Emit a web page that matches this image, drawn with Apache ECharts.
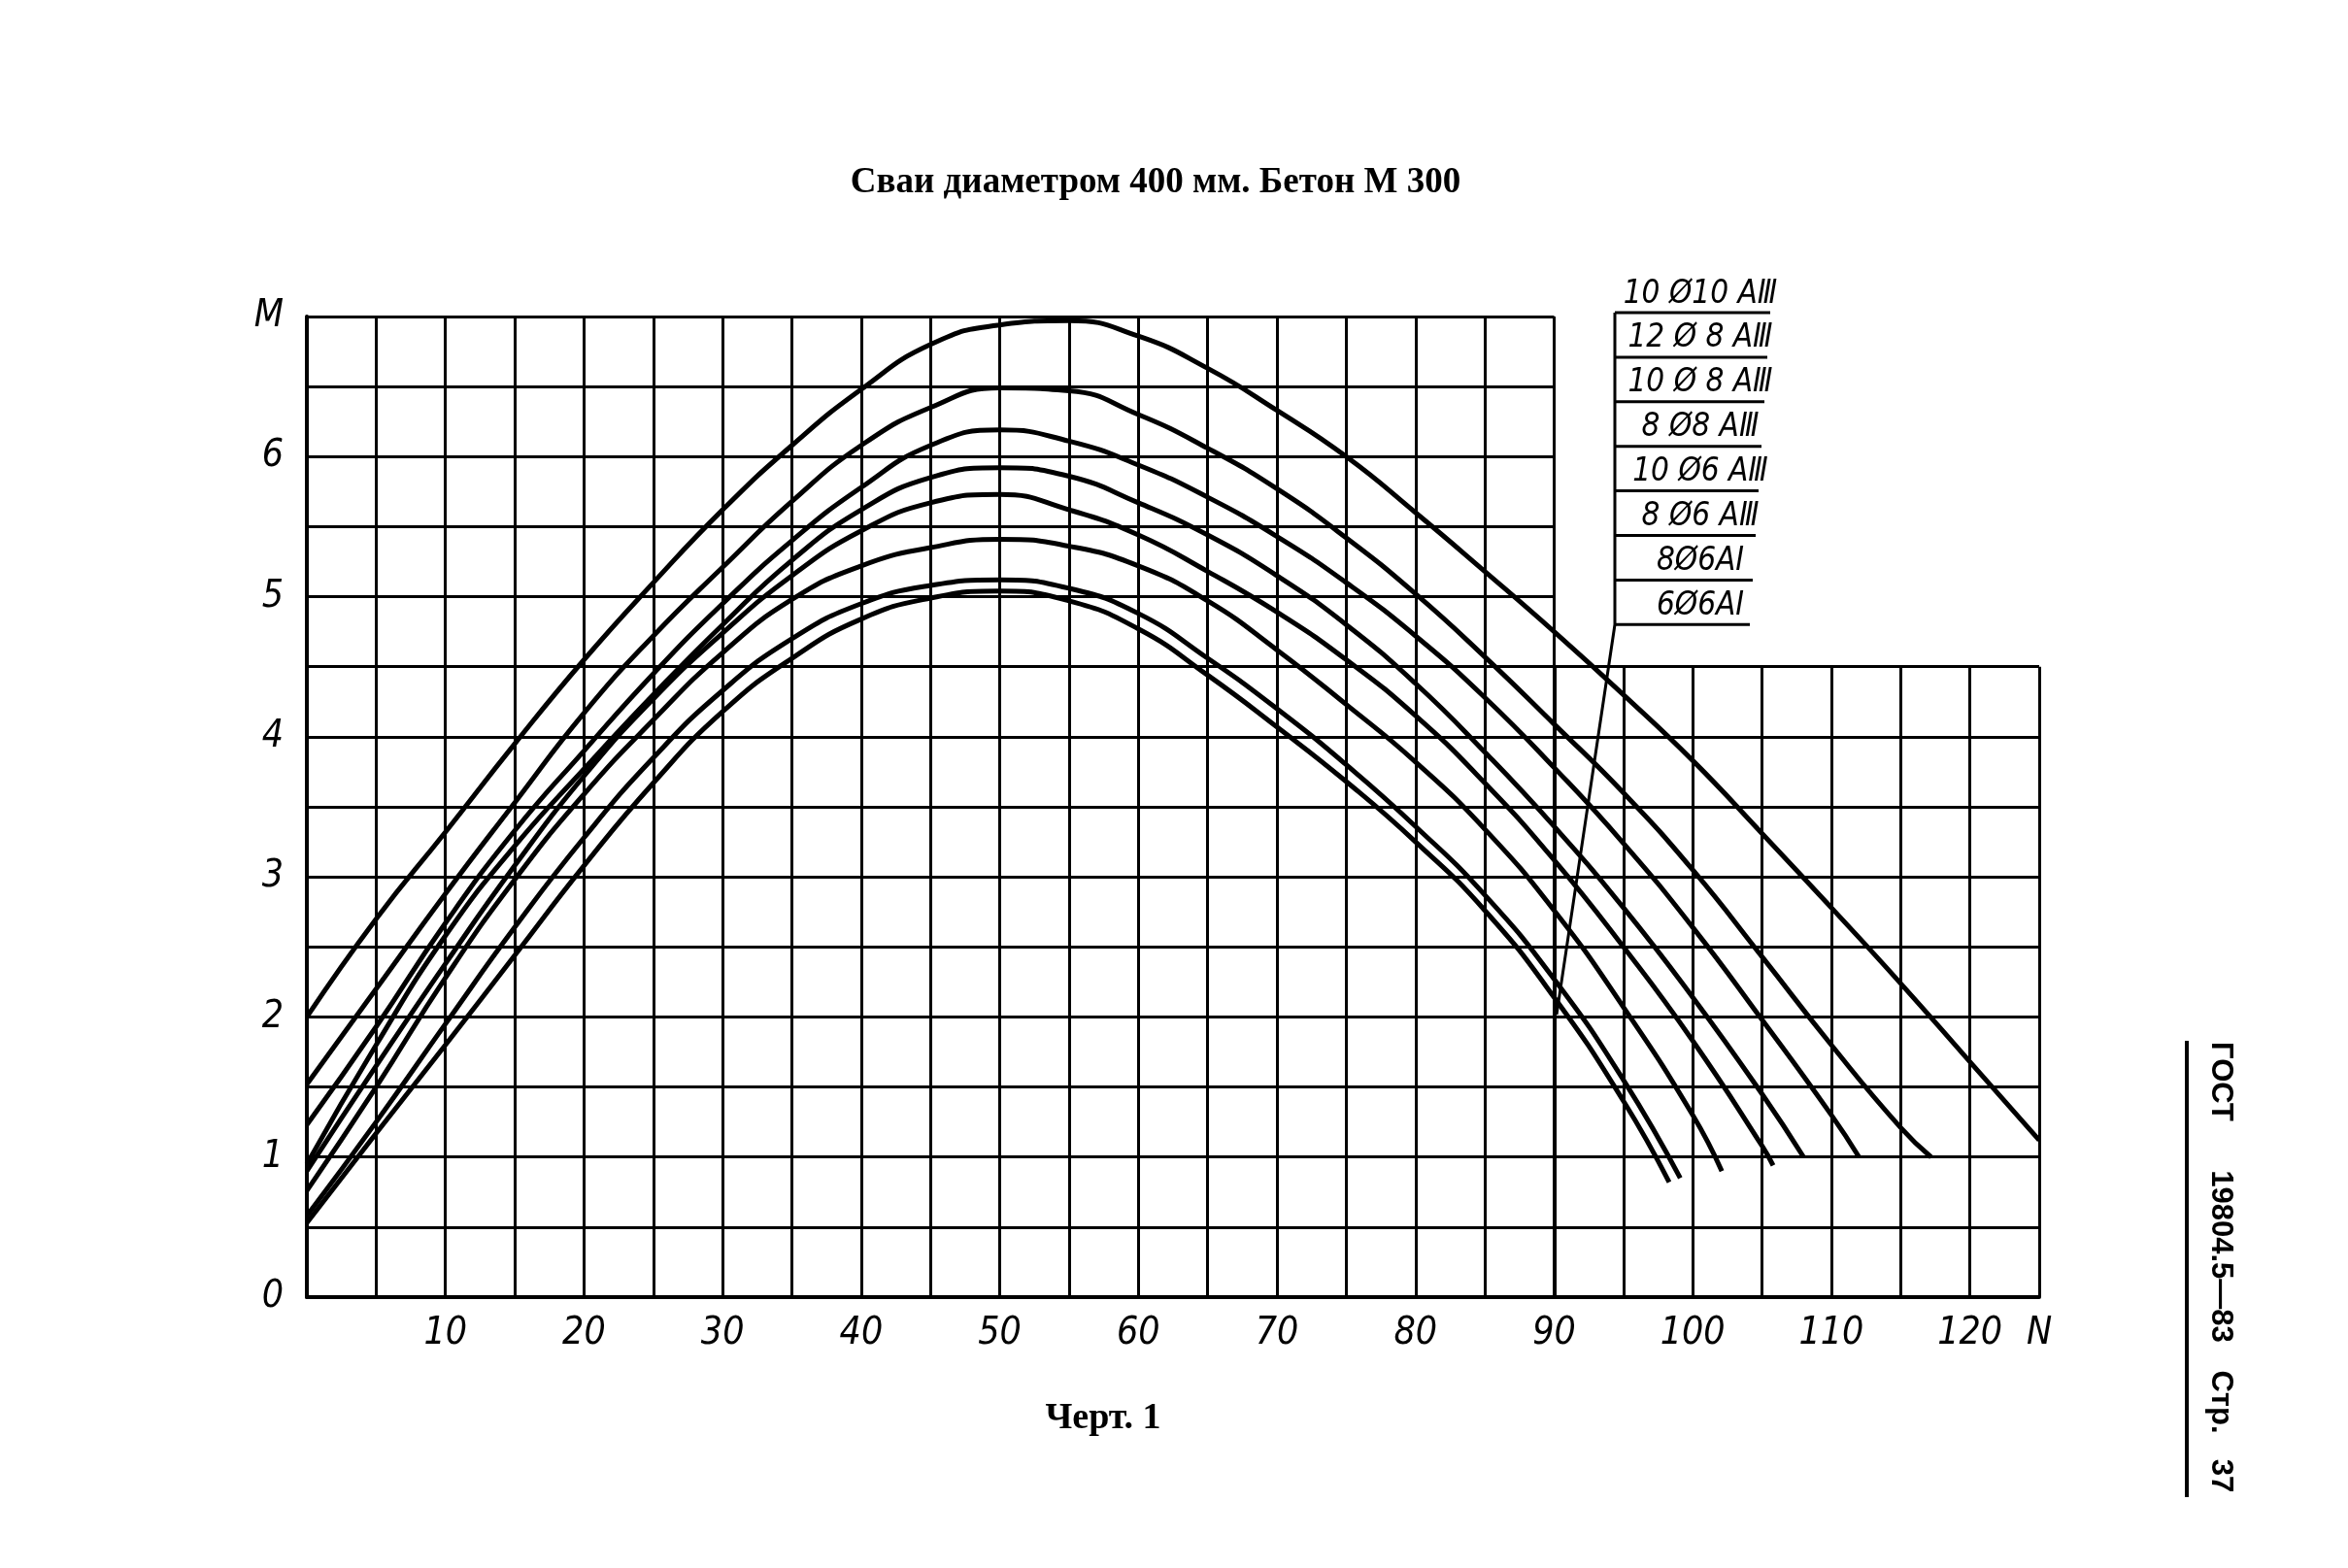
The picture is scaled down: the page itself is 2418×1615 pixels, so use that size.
<!DOCTYPE html>
<html><head><meta charset="utf-8">
<script src="https://cdn.jsdelivr.net/npm/echarts/dist/echarts.min.js"></script>
<style>html,body{margin:0;padding:0;background:#fff}#c{width:2418px;height:1615px}</style>
</head><body><div id="c"></div>
<script>
// ---- data ----
const seriesNames = ['10 Ø10 АⅢ','12 Ø 8 АⅢ','10 Ø 8 АⅢ','8 Ø8 АⅢ','10 Ø6 АⅢ','8 Ø6 АⅢ','8Ø6АⅠ','6Ø6АⅠ'];
const c10d10AIII = [[0,2.0],[5,2.7],[10,3.32],[15,3.95],[20,4.55],[25,5.1],[30,5.62],[35,6.08],[40,6.48],[45,6.8],[50,6.94],[55,6.97],[60,6.86],[65,6.63],[70,6.33],[75,6.0],[80,5.6],[85,5.18],[90,4.75],[95,4.3],[100,3.83],[105,3.31],[110,2.78],[115,2.24],[120,1.68],[125,1.12]];
const c12d8AIII = [[0,1.52],[5,2.2],[10,2.88],[15,3.53],[20,4.17],[25,4.72],[30,5.21],[35,5.68],[40,6.08],[45,6.35],[50,6.49],[55,6.47],[60,6.3],[65,6.06],[70,5.77],[75,5.42],[80,5.02],[85,4.57],[90,4.09],[95,3.6],[100,3.05],[105,2.43],[110,1.8],[115,1.21],[117.2,1.0]];
const c10d8AIII = [[0,1.23],[5,1.93],[10,2.67],[15,3.33],[20,3.9],[25,4.45],[30,4.95],[35,5.4],[40,5.78],[45,6.08],[50,6.19],[55,6.11],[60,5.94],[65,5.71],[70,5.43],[75,5.1],[80,4.72],[85,4.28],[90,3.78],[95,3.24],[100,2.64],[105,1.98],[110,1.3],[112,1.0]];
const c8d8AIII = [[0,0.95],[5,1.8],[10,2.58],[15,3.22],[20,3.77],[25,4.3],[30,4.8],[35,5.26],[40,5.62],[45,5.85],[50,5.92],[55,5.86],[60,5.67],[65,5.44],[70,5.15],[75,4.8],[80,4.38],[85,3.89],[90,3.36],[95,2.78],[100,2.14],[105,1.45],[108,1.0]];
const c10d6AIII = [[0,0.9],[5,1.65],[10,2.38],[15,3.08],[20,3.72],[25,4.27],[30,4.74],[35,5.15],[40,5.47],[45,5.67],[50,5.73],[55,5.62],[60,5.44],[65,5.18],[70,4.89],[75,4.55],[80,4.15],[85,3.67],[90,3.12],[95,2.5],[100,1.83],[105,1.08],[105.8,0.94]];
const c8d6AIII = [[0,0.76],[5,1.5],[10,2.28],[15,2.98],[20,3.59],[25,4.12],[30,4.6],[35,4.98],[40,5.22],[45,5.35],[50,5.41],[55,5.36],[60,5.22],[65,4.97],[70,4.62],[75,4.23],[80,3.82],[85,3.34],[90,2.76],[95,2.07],[100,1.3],[102.1,0.9]];
const c8d6AI = [[0,0.58],[5,1.25],[10,1.95],[15,2.64],[20,3.28],[25,3.85],[30,4.33],[35,4.7],[40,4.95],[45,5.08],[50,5.12],[55,5.06],[60,4.88],[65,4.56],[70,4.2],[75,3.8],[80,3.36],[85,2.87],[90,2.27],[95,1.55],[99.1,0.85]];
const c6d6AI = [[0,0.53],[5,1.17],[10,1.8],[15,2.44],[20,3.08],[25,3.67],[30,4.18],[35,4.56],[40,4.84],[45,4.99],[50,5.04],[55,4.97],[60,4.77],[65,4.44],[70,4.07],[75,3.68],[80,3.25],[85,2.76],[90,2.14],[95,1.4],[98.3,0.82]];
const curves = [c10d10AIII,c12d8AIII,c10d8AIII,c8d8AIII,c10d6AIII,c8d6AIII,c8d6AI,c6d6AI];
const xTickLabels = {10:'10',20:'20',30:'30',40:'40',50:'50',60:'60',70:'70',80:'80',90:'90',100:'100',110:'110',120:'120',125:'N'};
const yTickLabels = {0:'0',1:'1',2:'2',3:'3',4:'4',5:'5',6:'6',7:'M'};
const titleText = 'Сваи диаметром 400 мм. Бетон М 300';
const captionText = 'Черт. 1';
const sideTexts = ['ГОСТ','19804.5—83','Стр.','37'];

// ---- layout ----
const L = 316, T = 326, W = 1784, H = 1010;
const XMAX = 125, YMAX = 7, XSPLIT = 90, YSPLIT = 4.5;
const wSplit = W * XSPLIT / XMAX;
const hTopGap = H * (YMAX - YSPLIT) / YMAX;
const narrow = '"Liberation Sans Narrow","DejaVu Sans Condensed","Liberation Sans",sans-serif';
const gridLine = {color:'#000', width:3};

function gridAxis(gi, min, max, interval){
  return {gridIndex:gi, type:'value', min:min, max:max, interval:interval,
    axisLine:{show:true, onZero:false, lineStyle:{color:'#000', width:4}},
    axisTick:{show:false}, axisLabel:{show:false},
    splitLine:{show:true, showMinLine:true, showMaxLine:true, lineStyle:gridLine}};
}

const chart = echarts.init(document.getElementById('c'), null, {renderer:'canvas'});

const graphics = [];
graphics.push({type:'text', x:1190, y:188, style:{text:titleText, font:'bold 37px "Liberation Serif",serif', fill:'#000', textAlign:'center', textVerticalAlign:'middle', align:'center', verticalAlign:'middle'}});
graphics.push({type:'text', x:1136, y:1461, style:{text:captionText, font:'bold 38px "Liberation Serif",serif', fill:'#000', textAlign:'center', textVerticalAlign:'middle', align:'center', verticalAlign:'middle'}});
// legend labels
const legTop = 322, legStep = 45.9, legX = 1663;
seriesNames.forEach((n,i)=>{
  graphics.push({type:'text', x:1751, y:legTop + legStep*i - 19, style:{text:n, font:'italic 33px ' + narrow, fill:'#000', textAlign:'center', textVerticalAlign:'middle', align:'center', verticalAlign:'middle'}});
  graphics.push({type:'line', shape:{x1:legX, y1:legTop+legStep*i, x2:1823-3*i, y2:legTop+legStep*i}, style:{stroke:'#000', lineWidth:3}});
});
graphics.push({type:'polyline', shape:{points:[[legX,legTop],[legX,legTop+legStep*7],[1603,1045]]}, style:{stroke:'#000', lineWidth:3, fill:null}});
// side stamp
graphics.push({type:'line', shape:{x1:2252, y1:1072, x2:2252, y2:1542}, style:{stroke:'#000', lineWidth:4}});
const sideY = [1114, 1294, 1444, 1520];
sideTexts.forEach((t,i)=>{
  graphics.push({type:'text', x:2287, y:sideY[i], rotation:-Math.PI/2, style:{text:t, font:'bold 31px "Liberation Sans",sans-serif', fill:'#000', textAlign:'center', textVerticalAlign:'middle', align:'center', verticalAlign:'middle'}});
});

const option = {
  backgroundColor:'#fff',
  animation:false,
  grid:[
    {left:L, top:T, width:wSplit, height:H},
    {left:L+wSplit, top:T+hTopGap, width:W-wSplit, height:H-hTopGap},
    {left:L, top:T, width:W, height:H}
  ],
  xAxis:[
    gridAxis(0, 0, XSPLIT, 5),
    gridAxis(1, XSPLIT, XMAX, 5),
    {gridIndex:2, type:'value', min:0, max:XMAX, interval:5,
      axisLine:{show:false}, axisTick:{show:false}, splitLine:{show:false},
      axisLabel:{show:true, margin:18, color:'#000', fontSize:39, fontStyle:'italic', fontFamily:narrow,
        formatter:v=>xTickLabels[Math.round(v)]||''}}
  ],
  yAxis:[
    gridAxis(0, 0, YMAX, 0.5),
    gridAxis(1, 0, YSPLIT, 0.5),
    {gridIndex:2, type:'value', min:0, max:YMAX, interval:0.5,
      axisLine:{show:false}, axisTick:{show:false}, splitLine:{show:false},
      axisLabel:{show:true, margin:24, color:'#000', fontSize:39, fontStyle:'italic', fontFamily:narrow,
        formatter:v=>(Math.abs(v-Math.round(v))<1e-9 ? (yTickLabels[Math.round(v)]||'') : '')}}
  ],
  series: curves.map((d,i)=>({
    name:seriesNames[i], type:'line', xAxisIndex:2, yAxisIndex:2, data:d,
    smooth:0.5, symbol:'none', clip:false,
    lineStyle:{color:'#000', width:5}, z:5
  })),
  graphic: graphics
};
chart.setOption(option);
</script>
</body></html>
